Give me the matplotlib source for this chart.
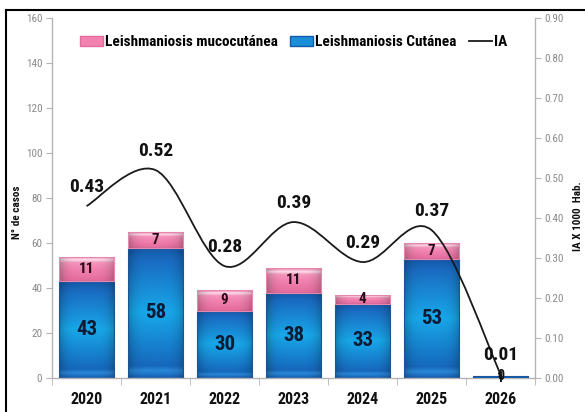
import numpy as np
import matplotlib
matplotlib.use("Agg")
import matplotlib.pyplot as plt
from matplotlib.path import Path
from matplotlib.patches import PathPatch, Patch
from matplotlib.lines import Line2D
from matplotlib.colors import to_rgb

years = ["2020", "2021", "2022", "2023", "2024", "2025", "2026"]
cutanea = [43, 58, 30, 38, 33, 53, 1]
mucocutanea = [11, 7, 9, 11, 4, 7, 0]
ia = [0.43, 0.52, 0.28, 0.39, 0.29, 0.37, 0.01]
ia_labels = ["0.43", "0.52", "0.28", "0.39", "0.29", "0.37", "0.01"]

FONT = ["Roboto Condensed", "Open Sans Condensed", "Lato", "DejaVu Sans"]
plt.rcParams["font.family"] = FONT

fig = plt.figure(figsize=(5.85, 4.12), dpi=100)
ax = fig.add_axes([0.0889, 0.0825, 0.8256, 0.8735])
ax2 = ax.twinx()

x = np.arange(len(years))
w = 0.8


def grad_img(stops, n=100, edge=0.22):
    pos = [s[0] for s in stops]
    cols = np.array([to_rgb(s[1]) for s in stops])
    t = np.linspace(0, 1, n)
    vert = np.stack([np.interp(t, pos, cols[:, k]) for k in range(3)], axis=1)
    u = np.linspace(0, 1, 40)
    ef = 1 - edge * np.abs(2 * u - 1) ** 4
    img = vert[:, None, :] * ef[None, :, None]
    return np.clip(img[::-1], 0, 1)


blue_stops = [(0.0, "#1660b4"), (0.05, "#2a88d8"), (0.09, "#1668bd"),
              (0.5, "#18a8ea"), (0.9, "#1a6cc2"), (1.0, "#1457a6")]
pink_stops = [(0.0, "#e46b9c"), (0.5, "#f283b0"), (0.75, "#f597bd"),
              (0.86, "#fde3ed"), (0.93, "#f7a6c6"), (1.0, "#f48fb8")]
blue_img = grad_img(blue_stops)
pink_img = grad_img(pink_stops)

b1 = ax.bar(x, cutanea, width=w, facecolor="none", edgecolor="#1b5596",
            linewidth=0.8, zorder=3)
b2 = ax.bar(x, mucocutanea, width=w, bottom=cutanea, facecolor="none",
            edgecolor="#e588ad", linewidth=0.8, zorder=3)

for rects, img in ((b1, blue_img), (b2, pink_img)):
    for r in rects:
        if r.get_height() <= 0:
            r.set_linewidth(0)
            continue
        if r.get_height() < 3:
            r.set_facecolor("#1763b8")
            continue
        x0, y0 = r.get_x(), r.get_y()
        im = ax.imshow(img, extent=[x0, x0 + r.get_width(), y0, y0 + r.get_height()],
                       aspect="auto", zorder=2, interpolation="bilinear")
        im.set_clip_path(r)

for i in range(len(years)):
    if cutanea[i] >= 5:
        ax.text(x[i], cutanea[i] / 2, str(cutanea[i]), ha="center", va="center",
                fontsize=15, fontweight="bold", color="#0c1a33", zorder=5)
    else:
        ax.text(x[i], 0, str(cutanea[i]), ha="center", va="center",
                fontsize=10, fontweight="bold", color="#111111", zorder=5)
    if mucocutanea[i] > 0:
        ax.text(x[i], cutanea[i] + mucocutanea[i] / 2, str(mucocutanea[i]),
                ha="center", va="center", fontsize=11, fontweight="bold",
                color="#2a0a18", zorder=5)
    else:
        ax.text(x[i], cutanea[i], str(mucocutanea[i]), ha="center", va="center",
                fontsize=10, fontweight="bold", color="#111111", zorder=5)

ax.set_xlim(-0.5, len(years) - 0.5)
ax.set_ylim(0, 160)
ax.set_yticks(np.arange(0, 161, 20))
ax2.set_ylim(0, 0.9)
ax2.set_yticks(np.arange(0, 0.91, 0.1))
ax2.set_yticklabels([f"{v:.2f}" for v in np.arange(0, 0.91, 0.1)])

# smooth line (Catmull-Rom bezier, like Excel smoothing)
pts = np.column_stack([x, ia]).astype(float)
verts = [tuple(pts[0])]
codes = [Path.MOVETO]
n = len(pts)
for i in range(n - 1):
    p0 = pts[i - 1] if i > 0 else pts[i]
    p1 = pts[i]
    p2 = pts[i + 1]
    p3 = pts[i + 2] if i + 2 < n else pts[i + 1]
    c1 = p1 + (p2 - p0) / 6
    c2 = p2 - (p3 - p1) / 6
    verts += [tuple(c1), tuple(c2), tuple(p2)]
    codes += [Path.CURVE4] * 3
ax2.add_patch(PathPatch(Path(verts, codes), facecolor="none", edgecolor="#1a1a1a",
                        linewidth=1.3, zorder=6))

for i in range(n):
    ax2.annotate(ia_labels[i], (x[i], ia[i]), xytext=(0, 14),
                 textcoords="offset points", ha="center", va="center",
                 fontsize=14, fontweight="bold", color="#111111", zorder=7)

ax.set_zorder(1)
ax2.set_zorder(2)
ax2.patch.set_visible(False)

# spines and ticks
for a in (ax, ax2):
    a.spines["top"].set_visible(False)
    for s in ("left", "right", "bottom"):
        a.spines[s].set_color("#b5b5b5")
        a.spines[s].set_linewidth(1.0)
ax.spines["right"].set_visible(False)
ax2.spines["left"].set_visible(False)
ax2.spines["bottom"].set_visible(False)

ax.tick_params(axis="y", colors="#b5b5b5", labelcolor="#8a8a8a", labelsize=8,
               length=4, direction="out", pad=3)
ax2.tick_params(axis="y", colors="#b5b5b5", labelcolor="#8a8a8a", labelsize=8,
                length=4, direction="out", pad=3)

ax.set_xticks(x)
ax.set_xticklabels(years, fontsize=11.5, fontweight="bold", color="#111111")
ax.set_xticks(np.arange(-0.5, len(years), 1.0), minor=True)
ax.tick_params(axis="x", which="major", length=0, pad=10)
ax.tick_params(axis="x", which="minor", length=5, color="#b5b5b5", direction="out")

ax.set_ylabel("N° de casos", fontsize=8, fontweight="bold", color="#111111")
ax.yaxis.set_label_coords(-0.063, 0.46)
ax2.set_ylabel("IA X 1000  Hab.", fontsize=8, fontweight="bold", color="#111111")
ax2.yaxis.set_label_coords(1.078, 0.45)

handles = [Patch(facecolor="#f283b0", edgecolor="#e46b9c"),
           Patch(facecolor="#1a8fd8", edgecolor="#1559a8"),
           Line2D([0], [0], color="#1a1a1a", linewidth=1.3)]
labels = ["Leishmaniosis mucocutánea", "Leishmaniosis Cutánea", "IA"]
leg = ax2.legend(handles, labels, loc="upper center", bbox_to_anchor=(0.5, 0.99),
                 ncol=3, frameon=False, handlelength=1.5, handleheight=0.6,
                 handletextpad=0.15, columnspacing=0.8,
                 prop={"family": FONT, "weight": "bold", "size": 11})

# outer frame
fig.add_artist(Line2D([6 / 585, 6 / 585], [0, 1 - 9.5 / 412], transform=fig.transFigure,
                      color="black", linewidth=1.5))
fig.add_artist(Line2D([6 / 585, 1], [1 - 9.5 / 412, 1 - 9.5 / 412], transform=fig.transFigure,
                      color="black", linewidth=1.5))

fig.savefig("out.png", dpi=100)
